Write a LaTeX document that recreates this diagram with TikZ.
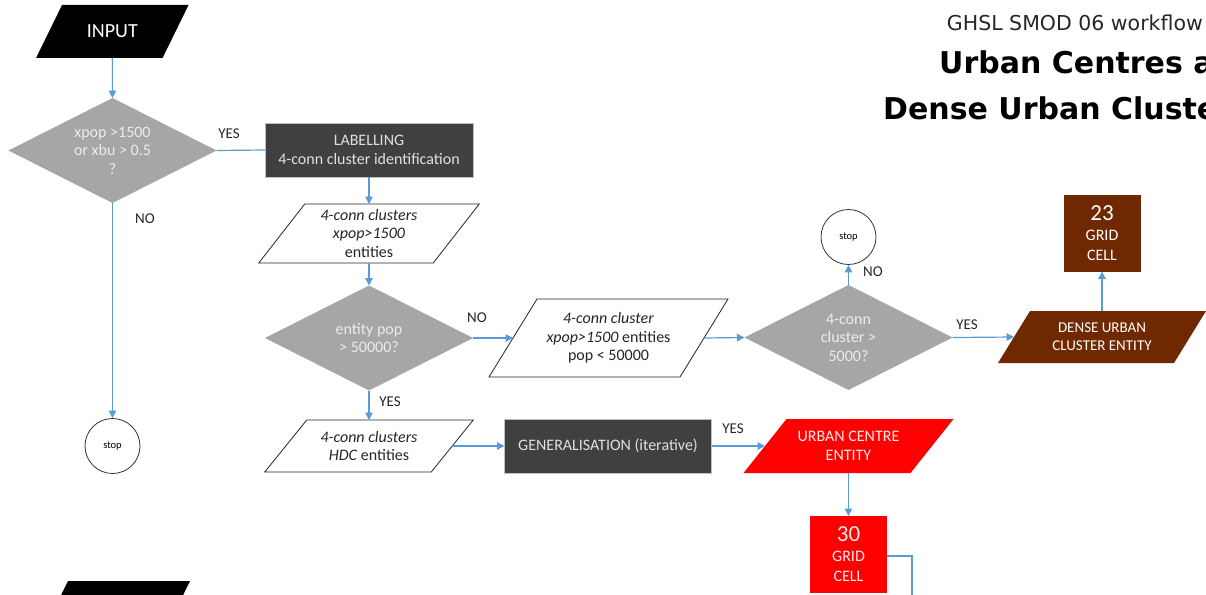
\documentclass[tikz,border=0pt]{standalone}
\usepackage{fontspec}
\setmainfont{Carlito}
\newfontfamily\titlefont{DejaVu Sans}
\usepackage{xcolor}
\usepackage{tikz}
\usetikzlibrary{positioning,arrows.meta,shapes.geometric,backgrounds,calc}

\definecolor{linkblue}{RGB}{91,155,213}
\definecolor{diagray}{RGB}{166,166,166}
\definecolor{diatext}{RGB}{236,236,236}
\definecolor{darkbox}{RGB}{64,64,64}
\definecolor{boxedge}{RGB}{191,191,191}
\definecolor{dubrown}{RGB}{112,40,0}
\definecolor{ucred}{RGB}{255,0,0}

\begin{document}
\begin{tikzpicture}[
        x=1pt, y=-1pt,
        txt/.style     ={font=\fontsize{16}{18.5}\selectfont, align=center, outer sep=0pt},
        conn/.style    ={draw=linkblue, line width=1.2pt, -{Triangle[length=7.5pt,width=7.5pt]}},
        link/.style    ={draw=linkblue, line width=1.2pt},
        decision/.style={txt, diamond, aspect=2, fill=diagray, text=diatext, minimum width=208pt, minimum height=105pt, inner sep=0pt},
        process/.style ={txt, fill=darkbox, draw=boxedge, line width=0.6pt, text=white!88!black, minimum width=208pt, minimum height=54pt},
        io/.style      ={txt, rectangle, inner sep=0pt},
        stopper/.style ={circle, draw=black!80, line width=0.8pt, minimum size=55pt, inner sep=0pt, font=\fontsize{10.5}{12}\selectfont},
        cell/.style    ={txt, font=\fontsize{16}{20}\selectfont, text=white, minimum width=77pt, minimum height=77pt, inner sep=0pt},
        lbl/.style     ={font=\fontsize{15}{17}\selectfont, inner sep=0pt, text=black!85},
        blackio/.style ={fill=black},
        whiteio/.style ={fill=white, draw=black!85, line width=0.8pt},
        brownio/.style ={fill=dubrown},
        redio/.style   ={fill=ucred}
    ]
        \useasboundingbox (0,0) rectangle (1206,594);
        \clip (0,0) rectangle (1206,594);
        % title, cut by the right edge
        \node[inner sep=0pt, anchor=base east, text=black!85,
              font=\titlefont\fontsize{20.5}{24}\selectfont] (ttl) at (1203,31) {GHSL SMOD 06 workflow};
        \node[inner sep=0pt, anchor=base west,
              font=\titlefont\bfseries\fontsize{30}{34}\selectfont] (ttlA) at (939,74) {Urban Centres and};
        \node[inner sep=0pt, anchor=base west,
              font=\titlefont\bfseries\fontsize{30}{34}\selectfont] (ttlB) at (883,119) {Dense Urban Clusters};

        % inputs / outputs (parallelograms drawn on the background layer)
        \node[io, text=white, font=\fontsize{20}{22}\selectfont,
              minimum width=126.5pt, minimum height=53pt] (inp) at (112.3,31.5) {INPUT};
        \node[io, text=black!85, minimum width=174.5pt, minimum height=59pt] (p1) at (369,233.5)
              {\textit{4-conn clusters}\\\textit{xpop>1500}\\entities};
        \node[io, text=black!85, minimum width=191pt, minimum height=78pt] (p3) at (608.5,338)
              {\textit{4-conn cluster}\\\textit{xpop>1500} entities\\pop < 50000};
        \node[io, text=black!85, minimum width=166.5pt, minimum height=52pt] (p4) at (369,446)
              {\textit{4-conn clusters}\\\textit{HDC} entities};
        \node[io, text=white, font=\fontsize{15}{18}\selectfont,
              minimum width=176pt, minimum height=52pt] (duc) at (1102,337) {DENSE URBAN\\CLUSTER ENTITY};
        \node[io, text=white!92!red, minimum width=167pt, minimum height=54pt] (uc) at (848.5,446)
              {URBAN CENTRE\\ENTITY};
        \begin{scope}[on background layer]
            \foreach \n/\s/\st in {inp/13/blackio, p1/23/whiteio, p3/24/whiteio,
                                   p4/21/whiteio, duc/16/brownio, uc/21.5/redio}{
                \path[\st] ($(\n.north west)+(\s,0)$) -- ($(\n.north east)+(\s,0)$)
                        -- ($(\n.south east)-(\s,0)$) -- ($(\n.south west)-(\s,0)$) -- cycle;
            }
        \end{scope}
        % next input, mostly below the picture
        \fill[black] (68,581) -- (190,581) -- (164,634) -- (42,634) -- cycle;

        % decisions
        \node[decision] (d1) at (112.5,150.5) {xpop >1500\\or xbu > 0.5\\?};
        \node[decision] (d2) at (369,338)     {entity pop\\> 50000?};
        \node[decision] (d3) at (848.5,337.5) {4-conn\\cluster >\\5000?};

        % processes and grid cells
        \node[process] (lab) at (369,150) {LABELLING\\4-conn cluster identification};
        \node[process, minimum width=207pt] (gen) at (608,446) {GENERALISATION (iterative)};
        \node[cell, fill=dubrown] (c23) at (1102,233)
              {{\fontsize{23}{24}\selectfont 23}\\GRID\\CELL};
        \node[cell, fill=ucred, text=white!92!red] (c30) at (848.5,554.5)
              {{\fontsize{23}{24}\selectfont 30}\\GRID\\CELL};

        % stops
        \node[stopper] (stopA) at (112.5,446) {stop};
        \node[stopper] (stopB) at (848.5,237) {stop};

        % connectors
        \draw[conn] (inp) -- (d1);
        \draw[link] (d1.east) -- (lab.west);
        \draw[conn] (lab) -- (p1);
        \draw[conn] (p1) -- (d2);
        \draw[conn] (d2.east) -- (p3.west);
        \draw[conn] (p3.east) -- (d3.west);
        \draw[conn] (d3.north) -- (stopB);
        \draw[conn] (d3.east) -- (duc.west);
        \draw[conn] (duc) -- (c23);
        \draw[conn] (d2.south) -- (p4.north);
        \draw[conn] (p4.east) -- (gen.west);
        \draw[conn] (gen.east) -- (uc.west);
        \draw[conn] (uc) -- (c30);
        \draw[conn] (d1.south) -- (stopA);
        \coordinate (c30out) at (912,620);
        \draw[link] (c30.east |- 0,556) -| (c30out);

        % branch labels
        \node[lbl] (yesA) at (229,134) {YES};
        \node[lbl] (noA)  at (145,219) {NO};
        \node[lbl] (noB)  at (477,318) {NO};
        \node[lbl] (yesB) at (390,402) {YES};
        \node[lbl] (noC)  at (873,272) {NO};
        \node[lbl] (yesC) at (967,325) {YES};
        \node[lbl] (yesD) at (733,429) {YES};
    \end{tikzpicture}
\end{document}
